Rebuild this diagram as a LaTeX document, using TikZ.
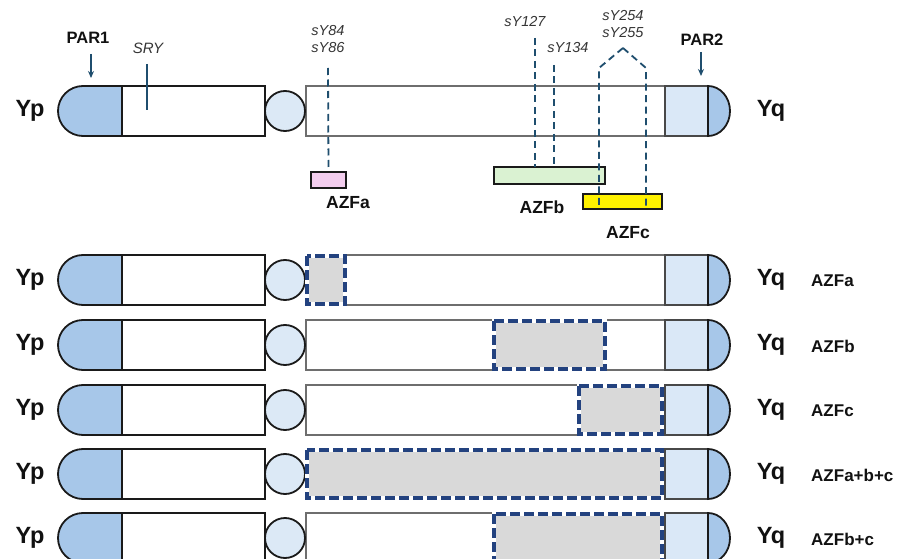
\documentclass[tikz,border=0pt]{standalone}
\usepackage{fontspec}
\setmainfont{Liberation Sans}
\usetikzlibrary{arrows.meta}
\definecolor{parblue}{HTML}{A7C7E9}
\definecolor{cenblue}{HTML}{DCE9F6}
\definecolor{partwolight}{HTML}{DAE8F7}
\definecolor{azfapink}{HTML}{F3CDEE}
\definecolor{azfbgreen}{HTML}{DAF2D2}
\definecolor{azfcyellow}{HTML}{FFF200}
\definecolor{delgray}{HTML}{D9D9D9}
\definecolor{deldash}{HTML}{23427F}
\definecolor{markerc}{HTML}{1F4E6E}
\definecolor{outl}{HTML}{1A1A1A}
\definecolor{armgray}{HTML}{6E6E6E}
\definecolor{txtc}{HTML}{111111}
\tikzset{
  capone/.style={fill=parblue,draw=outl,line width=1.8pt},
  shortarm/.style={fill=white,draw=outl,line width=1.8pt},
  cen/.style={fill=cenblue,draw=outl,line width=1.8pt},
  longarm/.style={fill=white,draw=armgray,line width=1.5pt},
  partwobox/.style={fill=partwolight,draw=outl!80,line width=1.6pt},
  partwocap/.style={fill=parblue,draw=outl,line width=1.8pt},
  delbox/.style={draw=deldash,line width=3.4pt,dash pattern=on 10pt off 4pt},
  delwhite/.style={draw=white,line width=3.4pt},
  mline/.style={draw=markerc,line width=1.8pt,dash pattern=on 7pt off 4.5pt},
  parrow/.style={draw=markerc,line width=1.6pt,-{Stealth[length=7pt,width=6pt]}},
  armlbl/.style={font=\fontsize{23.5}{24}\selectfont\bfseries,text=txtc,inner sep=0pt},
  parlbl/.style={font=\fontsize{16.5}{17}\selectfont\bfseries,text=txtc,inner sep=0pt},
  azflbl/.style={font=\fontsize{17.5}{18}\selectfont\bfseries,text=txtc,inner sep=0pt},
  dellbl/.style={font=\fontsize{17}{17}\selectfont\bfseries,text=txtc,inner sep=0pt,anchor=west},
  stslbl/.style={font=\fontsize{14.5}{17}\selectfont\itshape,text=txtc!85,inner sep=0pt,align=center},
  regbox/.style={line width=1.7pt,draw=outl},
}
\newcommand\drawchrom[2]{%
  \path[capone] (122,#1-25) -- (83,#1-25) arc[start angle=90,end angle=270,radius=25pt] -- (122,#1+25) -- cycle;
  \path[shortarm] (122,#1-25) rectangle (265,#1+25);
  \path[longarm] (306,#1-25) rectangle (665,#1+25);
  \path[partwobox] (665,#1-25) rectangle (708,#1+25);
  \path[partwocap] (708,#1-25) arc[start angle=90,end angle=-90,x radius=22pt,y radius=25pt] -- cycle;
  \path[cen] (285,#1) circle[radius=20pt];
  \node[armlbl] (yp#2) at (30,#1) {Yp};
  \node[armlbl] (yq#2) at (771,#1) {Yq};
}
\newcommand\deletion[3]{%
  \path[fill=delgray] (#1,#3-24) rectangle (#2,#3+24);
  \path[delwhite] (#1,#3-24) rectangle (#2,#3+24);
  \path[delbox] (#1,#3-24) rectangle (#2,#3+24);
}
\begin{document}
\begin{tikzpicture}[x=1pt,y=-1pt]
\useasboundingbox (0,0) rectangle (900,559);
\clip (0,0) rectangle (900,559);
\fill[white] (0,0) rectangle (900,559);

% reference chromosome
\drawchrom{111}{0}

% labels above
\node[parlbl] (par1) at (88,38) {PAR1};
\coordinate (par1a) at (91,54);
\coordinate (par1b) at (91,78);
\draw[parrow] (par1a) -- (par1b);
\node[parlbl] (par2) at (702,40) {PAR2};
\coordinate (par2a) at (701,52);
\coordinate (par2b) at (701,76);
\draw[parrow] (par2a) -- (par2b);

\node[stslbl,font=\fontsize{15}{17}\selectfont\itshape] (sry) at (148,48) {SRY};
\coordinate (srya) at (147,64);
\coordinate (sryb) at (147,110);
\draw[draw=markerc,line width=1.8pt] (srya) -- (sryb);

\node[stslbl] (sy84) at (328,39.5) {sY84\\sY86};
\node[stslbl] (sy127) at (525,22) {sY127};
\node[stslbl] (sy134) at (568,48) {sY134};
\node[stslbl] (sy254) at (623,24) {sY254\\sY255};

% AZF regions
\node[regbox,fill=azfapink,minimum width=35pt,minimum height=16pt,inner sep=0pt] (azfa) at (328.5,180) {};
\node[regbox,fill=azfbgreen,minimum width=111pt,minimum height=17pt,inner sep=0pt] (azfb) at (549.5,175.5) {};
\node[regbox,fill=azfcyellow,minimum width=79pt,minimum height=15pt,inner sep=0pt] (azfc) at (622.5,201.5) {};
\node[azflbl] (azfalbl) at (348,203) {AZFa};
\node[azflbl] (azfblbl) at (542,207) {AZFb};
\node[azflbl] (azfclbl) at (628,233) {AZFc};

% STS marker lines
\coordinate (m84) at (328,68);
\draw[mline] (m84) -- (azfa.north);
\coordinate (m127t) at (535,38);
\coordinate (m127b) at (535,167);
\draw[mline] (m127t) -- (m127b);
\coordinate (m134t) at (554,65);
\coordinate (m134b) at (554,167);
\draw[mline] (m134t) -- (m134b);
\coordinate (peak) at (623,48);
\coordinate (lc) at (599,68);
\coordinate (lcb) at (599,209);
\coordinate (rc) at (646,68);
\coordinate (rcb) at (646,209);
\draw[mline] (peak) -- (lc) -- (lcb);
\draw[mline] (peak) -- (rc) -- (rcb);

% deletion rows
\drawchrom{280}{1}
\deletion{307}{345}{280}
\node[dellbl] (l1) at (811,281) {AZFa};

\drawchrom{345}{2}
\deletion{494}{605}{345}
\node[dellbl] (l2) at (811,346) {AZFb};

\drawchrom{410}{3}
\deletion{579}{662}{410}
\node[dellbl] (l3) at (811,411) {AZFc};

\drawchrom{474}{4}
\deletion{307}{662}{474}
\node[dellbl] (l4) at (811,475) {AZFa+b+c};

\drawchrom{538}{5}
\deletion{494}{662}{538}
\node[dellbl] (l5) at (811,539) {AZFb+c};
\end{tikzpicture}
\end{document}
